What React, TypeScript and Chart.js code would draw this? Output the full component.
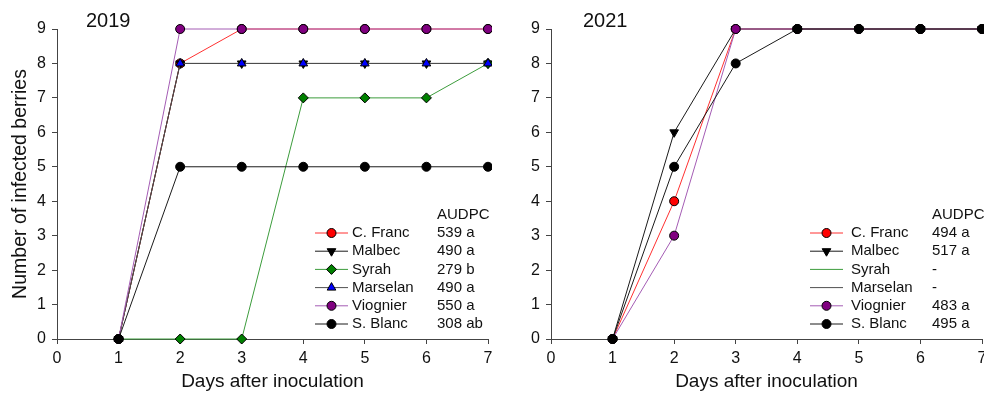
import React, { useEffect, useRef } from "react";
import { Chart, registerables } from "chart.js";
import { drawPoint } from "chart.js/helpers";

Chart.register(...registerables);

const days = [1, 2, 3, 4, 5, 6, 7];
const cultivars = ["C. Franc", "Malbec", "Syrah", "Marselan", "Viognier", "S. Blanc"];
const xTicks = [0, 1, 2, 3, 4, 5, 6, 7];
const yTicks = [0, 1, 2, 3, 4, 5, 6, 7, 8, 9];

const cfranc2019 = [0, 8, 9, 9, 9, 9, 9];
const malbec2019 = [0, 8, 8, 8, 8, 8, 8];
const syrah2019 = [0, 0, 0, 7, 7, 7, 8];
const marselan2019 = [0, 8, 8, 8, 8, 8, 8];
const viognier2019 = [0, 9, 9, 9, 9, 9, 9];
const sblanc2019 = [0, 5, 5, 5, 5, 5, 5];
const audpc2019 = ["539 a", "490 a", "279 b", "490 a", "550 a", "308 ab"];

const cfranc2021 = [0, 4, 9, 9, 9, 9, 9];
const malbec2021 = [0, 6, 9, 9, 9, 9, 9];
const syrah2021: number[] = [];
const marselan2021: number[] = [];
const viognier2021 = [0, 3, 9, 9, 9, 9, 9];
const sblanc2021 = [0, 5, 8, 9, 9, 9, 9];
const audpc2021 = ["494 a", "517 a", "-", "-", "483 a", "495 a"];

const styles = [
  { line: "#ff3030", fill: "#ff0000", point: "circle", rotation: 0, radius: 4.5 },
  { line: "#1a1a1a", fill: "#000000", point: "triangle", rotation: 180, radius: 5 },
  { line: "#3c9c3c", fill: "#008000", point: "rectRot", rotation: 0, radius: 5 },
  { line: "#505050", fill: "#0000ff", point: "triangle", rotation: 0, radius: 5 },
  { line: "#a45cb4", fill: "#800080", point: "circle", rotation: 0, radius: 4.5 },
  { line: "#1a1a1a", fill: "#000000", point: "circle", rotation: 0, radius: 4.5 },
];

const FONT = "'Liberation Sans', Arial, sans-serif";

type Panel = {
  year: string;
  series: number[][];
  audpc: string[];
  yWidth: number;
  padRight: number;
  showYTitle: boolean;
  yearDx: number;
  legend: { lineStart: number; lineEnd: number; label: number; value: number };
};

const panels: Panel[] = [
  {
    year: "2019",
    series: [cfranc2019, malbec2019, syrah2019, marselan2019, viognier2019, sblanc2019],
    audpc: audpc2019,
    yWidth: 57,
    padRight: 4,
    showYTitle: true,
    yearDx: 29,
    legend: { lineStart: 173, lineEnd: 140, label: 136, value: 51 },
  },
  {
    year: "2021",
    series: [cfranc2021, malbec2021, syrah2021, marselan2021, viognier2021, sblanc2021],
    audpc: audpc2021,
    yWidth: 59,
    padRight: 2,
    showYTitle: false,
    yearDx: 32,
    legend: { lineStart: 172, lineEnd: 139, label: 131, value: 50 },
  },
];

function ChartPanel({ panel }: { panel: Panel }) {
  const ref = useRef<HTMLCanvasElement | null>(null);
  useEffect(() => {
    if (!ref.current) return;
    const overlay = {
      id: "overlay" + panel.year,
      afterDraw(chart: any) {
        const ctx = chart.ctx as CanvasRenderingContext2D;
        const { left, top, right } = chart.chartArea;
        ctx.save();
        ctx.fillStyle = "#111";
        ctx.font = `20px ${FONT}`;
        ctx.textAlign = "left";
        ctx.textBaseline = "alphabetic";
        ctx.fillText(panel.year, left + panel.yearDx, 27);

        const L = panel.legend;
        const rowH = 18.2;
        const y0 = top + 204;
        ctx.font = `15px ${FONT}`;
        ctx.textBaseline = "middle";
        ctx.fillText("AUDPC", right - L.value, y0 - rowH);
        cultivars.forEach((name, i) => {
          const y = y0 + i * rowH;
          const st = styles[i];
          ctx.strokeStyle = st.line;
          ctx.lineWidth = 1;
          ctx.beginPath();
          ctx.moveTo(right - L.lineStart, y);
          ctx.lineTo(right - L.lineEnd, y);
          ctx.stroke();
          if (panel.series[i].length > 0) {
            ctx.fillStyle = st.fill;
            ctx.strokeStyle = "#000";
            ctx.lineWidth = 1;
            drawPoint(
              ctx,
              { radius: st.radius, pointStyle: st.point as any, rotation: st.rotation, borderWidth: 1 },
              (right - L.lineStart + right - L.lineEnd) / 2,
              y
            );
          }
          ctx.fillStyle = "#111";
          ctx.fillText(name, right - L.label, y);
          ctx.fillText(panel.audpc[i], right - L.value, y);
        });
        ctx.restore();
      },
    };

    const datasets = cultivars.map((name, i) => {
      const st = styles[i];
      return {
        label: name,
        data: panel.series[i].map((v, k) => ({ x: days[k], y: v })),
        borderColor: st.line,
        borderWidth: 1,
        backgroundColor: st.fill,
        pointBackgroundColor: st.fill,
        pointBorderColor: "#000",
        pointBorderWidth: 1,
        pointRadius: st.radius,
        pointStyle: st.point,
        pointRotation: st.rotation,
        tension: 0,
        clip: false,
        order: cultivars.length - i,
      };
    });

    const chart = new Chart(ref.current, {
      type: "line",
      data: { datasets: datasets as any },
      options: {
        animation: false,
        responsive: false,
        maintainAspectRatio: false,
        layout: { autoPadding: false, padding: { top: 29, right: panel.padRight, left: 0, bottom: 0 } },
        plugins: { legend: { display: false }, tooltip: { enabled: false } },
        scales: {
          x: {
            type: "linear",
            min: 0,
            max: 7,
            afterBuildTicks: (s: any) => {
              s.ticks = xTicks.map((v) => ({ value: v }));
            },
            afterFit: (s: any) => {
              s.height = 55;
              s.paddingLeft = 0;
              s.paddingRight = 0;
            },
            grid: { drawOnChartArea: false, drawTicks: true, tickLength: 5, color: "#444", lineWidth: 1 },
            border: { display: true, color: "#444", width: 1 },
            ticks: { color: "#111", font: { family: FONT, size: 16 }, padding: 5, maxRotation: 0, autoSkip: false },
            title: {
              display: true,
              text: "Days after inoculation",
              color: "#111",
              font: { family: FONT, size: 19 },
              padding: { top: 0, bottom: 1 },
            },
          },
          y: {
            type: "linear",
            min: 0,
            max: 9,
            afterBuildTicks: (s: any) => {
              s.ticks = yTicks.map((v) => ({ value: v }));
            },
            afterFit: (s: any) => {
              s.width = panel.yWidth;
              s.paddingTop = 0;
              s.paddingBottom = 0;
            },
            grid: { drawOnChartArea: false, drawTicks: true, tickLength: 5, color: "#444", lineWidth: 1 },
            border: { display: true, color: "#444", width: 1 },
            ticks: { color: "#111", font: { family: FONT, size: 16 }, padding: 6, autoSkip: false },
            title: {
              display: panel.showYTitle,
              text: "Number of infected berries",
              color: "#111",
              font: { family: FONT, size: 19.5 },
              padding: { top: 9, bottom: 0 },
            },
          },
        },
      },
      plugins: [overlay],
    } as any);
    return () => chart.destroy();
  }, [panel]);
  return <canvas ref={ref} width={492} height={394} style={{ display: "block", width: 492, height: 394 }} />;
}

export default function App() {
  return (
    <div style={{ position: "absolute", left: 0, top: 0, width: 984, height: 394, display: "flex", background: "#fff" }}>
      {panels.map((p) => (
        <ChartPanel key={p.year} panel={p} />
      ))}
    </div>
  );
}
